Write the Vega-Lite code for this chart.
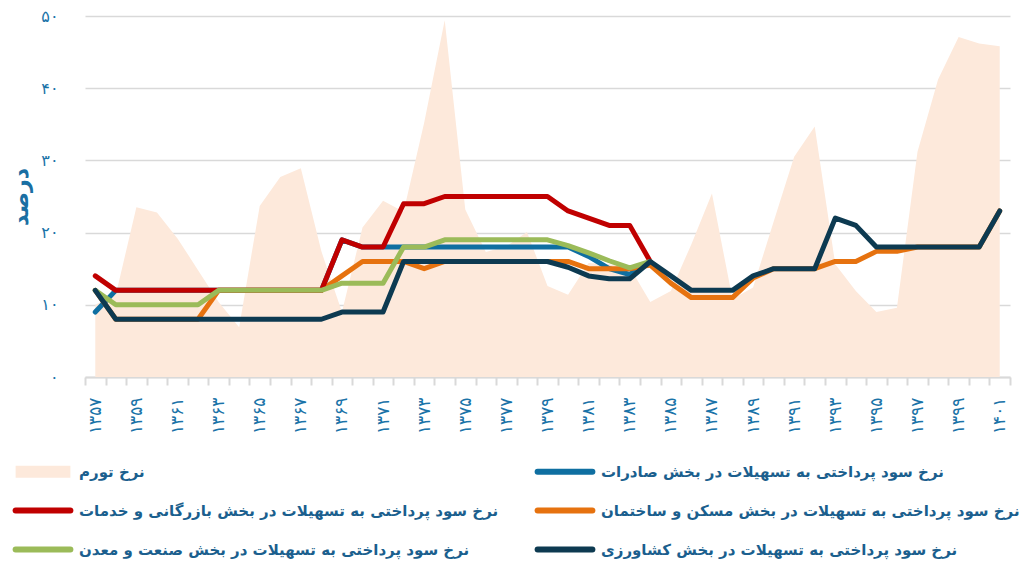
{
  "$schema": "https://vega.github.io/schema/vega-lite/v6.json",
  "width": 925,
  "height": 361,
  "autosize": {"type": "none"},
  "padding": {"left": 85, "top": 16, "right": 12, "bottom": 190},
  "background": "white",
  "config": {"font": "DejaVu Sans", "view": {"stroke": null}},
  "datasets": {
    "names": [
      {"k": "inf", "name": "نرخ تورم"},
      {"k": "exp", "name": "نرخ  سود پرداختی به تسهیلات در بخش صادرات"},
      {"k": "trd", "name": "نرخ سود پرداختی به تسهیلات در بخش بازرگانی و خدمات"},
      {"k": "hou", "name": "نرخ سود پرداختی به تسهیلات در بخش مسکن و ساختمان"},
      {"k": "ind", "name": "نرخ سود پرداختی به تسهیلات در بخش صنعت و معدن"},
      {"k": "agr", "name": "نرخ سود پرداختی به تسهیلات در بخش کشاورزی"}
    ]
  },
  "data": {
    "values": [
      {"year": 1357, "inf": 10.0, "exp": 9, "hou": 12, "trd": 14, "ind": 12, "agr": 12},
      {"year": 1358, "inf": 11.4, "exp": 12, "hou": 8, "trd": 12, "ind": 10, "agr": 8},
      {"year": 1359, "inf": 23.5, "exp": 12, "hou": 8, "trd": 12, "ind": 10, "agr": 8},
      {"year": 1360, "inf": 22.8, "exp": 12, "hou": 8, "trd": 12, "ind": 10, "agr": 8},
      {"year": 1361, "inf": 19.2, "exp": 12, "hou": 8, "trd": 12, "ind": 10, "agr": 8},
      {"year": 1362, "inf": 14.8, "exp": 12, "hou": 8, "trd": 12, "ind": 10, "agr": 8},
      {"year": 1363, "inf": 10.4, "exp": 12, "hou": 12, "trd": 12, "ind": 12, "agr": 8},
      {"year": 1364, "inf": 6.9, "exp": 12, "hou": 12, "trd": 12, "ind": 12, "agr": 8},
      {"year": 1365, "inf": 23.7, "exp": 12, "hou": 12, "trd": 12, "ind": 12, "agr": 8},
      {"year": 1366, "inf": 27.7, "exp": 12, "hou": 12, "trd": 12, "ind": 12, "agr": 8},
      {"year": 1367, "inf": 28.9, "exp": 12, "hou": 12, "trd": 12, "ind": 12, "agr": 8},
      {"year": 1368, "inf": 17.4, "exp": 12, "hou": 12, "trd": 12, "ind": 12, "agr": 8},
      {"year": 1369, "inf": 9.0, "exp": 19, "hou": 14, "trd": 19, "ind": 13, "agr": 9},
      {"year": 1370, "inf": 20.7, "exp": 18, "hou": 16, "trd": 18, "ind": 13, "agr": 9},
      {"year": 1371, "inf": 24.4, "exp": 18, "hou": 16, "trd": 18, "ind": 13, "agr": 9},
      {"year": 1372, "inf": 22.9, "exp": 18, "hou": 16, "trd": 24, "ind": 18, "agr": 16},
      {"year": 1373, "inf": 35.2, "exp": 18, "hou": 15, "trd": 24, "ind": 18, "agr": 16},
      {"year": 1374, "inf": 49.4, "exp": 18, "hou": 16, "trd": 25, "ind": 19, "agr": 16},
      {"year": 1375, "inf": 23.2, "exp": 18, "hou": 16, "trd": 25, "ind": 19, "agr": 16},
      {"year": 1376, "inf": 17.3, "exp": 18, "hou": 16, "trd": 25, "ind": 19, "agr": 16},
      {"year": 1377, "inf": 18.1, "exp": 18, "hou": 16, "trd": 25, "ind": 19, "agr": 16},
      {"year": 1378, "inf": 20.1, "exp": 18, "hou": 16, "trd": 25, "ind": 19, "agr": 16},
      {"year": 1379, "inf": 12.6, "exp": 18, "hou": 16, "trd": 25, "ind": 19, "agr": 16},
      {"year": 1380, "inf": 11.4, "exp": 18, "hou": 16, "trd": 23, "ind": 18.2, "agr": 15.2},
      {"year": 1381, "inf": 15.8, "exp": 16.7, "hou": 15, "trd": 22, "ind": 17.2, "agr": 14},
      {"year": 1382, "inf": 15.6, "exp": 15, "hou": 15, "trd": 21, "ind": 16.1, "agr": 13.6},
      {"year": 1383, "inf": 15.2, "exp": 14.2, "hou": 15, "trd": 21, "ind": 15.1, "agr": 13.6},
      {"year": 1384, "inf": 10.4, "exp": 16, "hou": 15.5, "trd": 16, "ind": 16, "agr": 16},
      {"year": 1385, "inf": 11.9, "exp": null, "hou": 13, "trd": null, "ind": null, "agr": 14},
      {"year": 1386, "inf": 18.4, "exp": null, "hou": 11, "trd": null, "ind": null, "agr": 12},
      {"year": 1387, "inf": 25.4, "exp": null, "hou": 11, "trd": null, "ind": null, "agr": 12},
      {"year": 1388, "inf": 10.8, "exp": null, "hou": 11, "trd": null, "ind": null, "agr": 12},
      {"year": 1389, "inf": 12.4, "exp": null, "hou": 13.7, "trd": null, "ind": null, "agr": 14},
      {"year": 1390, "inf": 21.5, "exp": null, "hou": 15, "trd": null, "ind": null, "agr": 15},
      {"year": 1391, "inf": 30.5, "exp": null, "hou": 15, "trd": null, "ind": null, "agr": 15},
      {"year": 1392, "inf": 34.7, "exp": null, "hou": 15, "trd": null, "ind": null, "agr": 15},
      {"year": 1393, "inf": 15.6, "exp": null, "hou": 16, "trd": null, "ind": null, "agr": 22},
      {"year": 1394, "inf": 11.9, "exp": null, "hou": 16, "trd": null, "ind": null, "agr": 21},
      {"year": 1395, "inf": 9.0, "exp": null, "hou": 17.4, "trd": null, "ind": null, "agr": 18},
      {"year": 1396, "inf": 9.6, "exp": null, "hou": 17.4, "trd": null, "ind": null, "agr": 18},
      {"year": 1397, "inf": 31.2, "exp": null, "hou": 18, "trd": null, "ind": null, "agr": 18},
      {"year": 1398, "inf": 41.2, "exp": null, "hou": 18, "trd": null, "ind": null, "agr": 18},
      {"year": 1399, "inf": 47.1, "exp": null, "hou": 18, "trd": null, "ind": null, "agr": 18},
      {"year": 1400, "inf": 46.2, "exp": null, "hou": 18, "trd": null, "ind": null, "agr": 18},
      {"year": 1401, "inf": 45.8, "exp": null, "hou": 23, "trd": null, "ind": null, "agr": 23}
    ]
  },
  "transform": [
    {"fold": ["inf", "exp", "hou", "trd", "ind", "agr"], "as": ["k", "v"]},
    {"lookup": "k", "from": {"data": {"name": "names"}, "key": "k", "fields": ["name"]}}
  ],
  "encoding": {
    "x": {
      "field": "year",
      "type": "ordinal",
      "bandPosition": 0.5,
      "scale": {"type": "band", "paddingInner": 0, "paddingOuter": 0},
      "axis": {
        "title": null,
        "labelAngle": -90,
        "labelExpr": "datum.value % 2 == 1 ? substring('۰۱۲۳۴۵۶۷۸۹', floor(datum.value/1000), floor(datum.value/1000)+1) + substring('۰۱۲۳۴۵۶۷۸۹', floor(datum.value/100)%10, floor(datum.value/100)%10+1) + substring('۰۱۲۳۴۵۶۷۸۹', floor(datum.value/10)%10, floor(datum.value/10)%10+1) + substring('۰۱۲۳۴۵۶۷۸۹', datum.value%10, datum.value%10+1) : ''",
        "labelOverlap": false,
        "tickBand": "extent",
        "tickSize": 8,
        "tickColor": "#d9d9d9",
        "tickWidth": 2,
        "domainColor": "#d9d9d9",
        "domainWidth": 2,
        "labelColor": "#1a73a8",
        "labelFontSize": 17,
        "labelPadding": 12,
        "grid": false
      }
    },
    "y": {
      "field": "v",
      "type": "quantitative",
      "stack": null,
      "scale": {"domain": [0, 50]},
      "axis": {
        "title": "درصد",
        "titleFontSize": 22,
        "titleFontWeight": "bold",
        "titleColor": "#1a6fa3",
        "titlePadding": 8,
        "values": [0, 10, 20, 30, 40, 50],
        "labelExpr": "datum.value == 0 ? '۰' : substring('۰۱۲۳۴۵۶۷۸۹', datum.value/10, datum.value/10+1) + '۰'",
        "domain": false,
        "ticks": false,
        "gridColor": "#d9d9d9",
        "gridWidth": 1.5,
        "labelPadding": 27,
        "labelFontSize": 16,
        "labelColor": "#1a73a8"
      }
    },
    "color": {
      "field": "name",
      "type": "nominal",
      "scale": {
        "domain": [
          "نرخ تورم",
          "نرخ سود پرداختی به تسهیلات در بخش بازرگانی و خدمات",
          "نرخ سود پرداختی به تسهیلات در بخش صنعت و معدن",
          "نرخ  سود پرداختی به تسهیلات در بخش صادرات",
          "نرخ سود پرداختی به تسهیلات در بخش مسکن و ساختمان",
          "نرخ سود پرداختی به تسهیلات در بخش کشاورزی"
        ],
        "range": ["#fde9db", "#c00000", "#9bbb59", "#0f6fa1", "#e6720f", "#0d3a51"]
      },
      "legend": {
        "title": null,
        "orient": "none",
        "legendX": -70,
        "legendY": 448,
        "columns": 2,
        "columnPadding": 35,
        "rowPadding": 23,
        "gridAlign": "all",
        "symbolType": "stroke",
        "symbolSize": 3000,
        "symbolStrokeWidth": 6,
        "symbolOpacity": 1,
        "symbolOffset": 20.5,
        "labelFontSize": 15,
        "labelFontWeight": "bold",
        "labelColor": "#1b5f8e",
        "labelLimit": 700,
        "labelOffset": 28.5,
        "encode": {
          "symbols": {
            "update": {
              "shape": {"signal": "datum.value === 'نرخ تورم' ? 'M-1,-0.22H1V0.22H-1Z' : 'stroke'"},
              "fill": {"signal": "datum.value === 'نرخ تورم' ? '#fde9db' : 'transparent'"},
              "strokeWidth": {"signal": "datum.value === 'نرخ تورم' ? 0 : 6"},
              "strokeCap": {"value": "round"},
              "strokeJoin": {"value": "round"}
            }
          }
        }
      }
    }
  },
  "layer": [
    {
      "transform": [{"filter": "datum.k == 'inf'"}],
      "mark": {"type": "area", "opacity": 1}
    },
    {
      "transform": [{"filter": "datum.k != 'inf'"}],
      "mark": {"type": "line", "strokeWidth": 5, "strokeCap": "round", "strokeJoin": "round"}
    }
  ]
}
